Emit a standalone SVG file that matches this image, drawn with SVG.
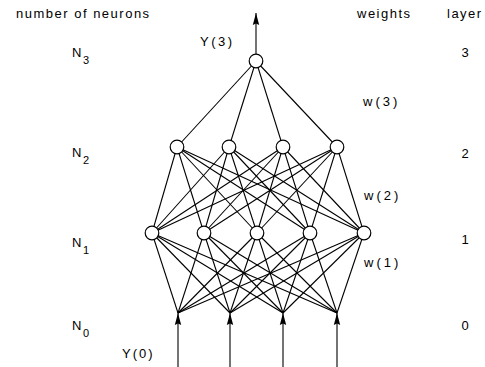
<svg xmlns="http://www.w3.org/2000/svg" width="485" height="367" viewBox="0 0 485 367">
<style>
text{font-family:"Liberation Sans",Arial,sans-serif;font-size:13px;fill:#000;letter-spacing:1.5px}
.sub{font-size:11px;letter-spacing:0}
.w{letter-spacing:3px}
.num{text-anchor:middle;letter-spacing:0}
.node{fill:#fff;stroke:#000;stroke-width:1.2}
#connectors line{stroke:#000;stroke-width:1.1}
</style>
<defs>
<marker id="arr" markerUnits="userSpaceOnUse" markerWidth="13" markerHeight="8" refX="12" refY="4" orient="auto">
<path d="M0,0.8 L12,4 L0,7.2 L1.5,4 z" fill="#000"/>
</marker>
</defs>
<rect width="485" height="367" fill="#fff"/>
<g id="connectors">
<line x1="256" y1="61" x2="177" y2="147"/>
<line x1="256" y1="61" x2="229" y2="147"/>
<line x1="256" y1="61" x2="283" y2="147"/>
<line x1="256" y1="61" x2="337" y2="147"/>
<line x1="177" y1="147" x2="152" y2="233"/><line x1="177" y1="147" x2="204" y2="233"/><line x1="177" y1="147" x2="257" y2="233"/><line x1="177" y1="147" x2="310" y2="233"/><line x1="177" y1="147" x2="364" y2="233"/>
<line x1="229" y1="147" x2="152" y2="233"/><line x1="229" y1="147" x2="204" y2="233"/><line x1="229" y1="147" x2="257" y2="233"/><line x1="229" y1="147" x2="310" y2="233"/><line x1="229" y1="147" x2="364" y2="233"/>
<line x1="283" y1="147" x2="152" y2="233"/><line x1="283" y1="147" x2="204" y2="233"/><line x1="283" y1="147" x2="257" y2="233"/><line x1="283" y1="147" x2="310" y2="233"/><line x1="283" y1="147" x2="364" y2="233"/>
<line x1="337" y1="147" x2="152" y2="233"/><line x1="337" y1="147" x2="204" y2="233"/><line x1="337" y1="147" x2="257" y2="233"/><line x1="337" y1="147" x2="310" y2="233"/><line x1="337" y1="147" x2="364" y2="233"/>
<line x1="152" y1="233" x2="178" y2="313"/><line x1="152" y1="233" x2="230" y2="313"/><line x1="152" y1="233" x2="283" y2="313"/><line x1="152" y1="233" x2="337" y2="313"/>
<line x1="204" y1="233" x2="178" y2="313"/><line x1="204" y1="233" x2="230" y2="313"/><line x1="204" y1="233" x2="283" y2="313"/><line x1="204" y1="233" x2="337" y2="313"/>
<line x1="257" y1="233" x2="178" y2="313"/><line x1="257" y1="233" x2="230" y2="313"/><line x1="257" y1="233" x2="283" y2="313"/><line x1="257" y1="233" x2="337" y2="313"/>
<line x1="310" y1="233" x2="178" y2="313"/><line x1="310" y1="233" x2="230" y2="313"/><line x1="310" y1="233" x2="283" y2="313"/><line x1="310" y1="233" x2="337" y2="313"/>
<line x1="364" y1="233" x2="178" y2="313"/><line x1="364" y1="233" x2="230" y2="313"/><line x1="364" y1="233" x2="283" y2="313"/><line x1="364" y1="233" x2="337" y2="313"/>
<line x1="178" y1="367" x2="178" y2="313" marker-end="url(#arr)"/>
<line x1="230" y1="367" x2="230" y2="313" marker-end="url(#arr)"/>
<line x1="283" y1="367" x2="283" y2="313" marker-end="url(#arr)"/>
<line x1="337" y1="367" x2="337" y2="313" marker-end="url(#arr)"/>
<line x1="256" y1="54" x2="256" y2="13" marker-end="url(#arr)"/>
</g>
<g id="n3_1"><circle class="node" cx="256" cy="61" r="6.8"/></g>
<g id="n2_1"><circle class="node" cx="177" cy="147" r="6.8"/></g>
<g id="n2_2"><circle class="node" cx="229" cy="147" r="6.8"/></g>
<g id="n2_3"><circle class="node" cx="283" cy="147" r="6.8"/></g>
<g id="n2_4"><circle class="node" cx="337" cy="147" r="6.8"/></g>
<g id="n1_1"><circle class="node" cx="152" cy="233" r="6.8"/></g>
<g id="n1_2"><circle class="node" cx="204" cy="233" r="6.8"/></g>
<g id="n1_3"><circle class="node" cx="257" cy="233" r="6.8"/></g>
<g id="n1_4"><circle class="node" cx="310" cy="233" r="6.8"/></g>
<g id="n1_5"><circle class="node" cx="364" cy="233" r="6.8"/></g>
<g id="labels">
<text x="16" y="18">number of neurons</text>
<text x="357" y="18">weights</text>
<text x="447" y="18">layer</text>
<text x="72" y="57">N<tspan class="sub" dy="7">3</tspan></text>
<text x="72" y="157">N<tspan class="sub" dy="7">2</tspan></text>
<text x="72" y="247">N<tspan class="sub" dy="7">1</tspan></text>
<text x="72" y="330">N<tspan class="sub" dy="7">0</tspan></text>
<text x="200" y="46" style="letter-spacing:2.5px">Y(3)</text>
<text x="122" y="358" style="letter-spacing:2px">Y(0)</text>
<text class="w" x="363" y="106">w(3)</text>
<text class="w" x="364" y="200">w(2)</text>
<text class="w" x="364" y="267">w(1)</text>
<text class="num" x="465" y="57">3</text>
<text class="num" x="465" y="158">2</text>
<text class="num" x="465" y="244">1</text>
<text class="num" x="465" y="330">0</text>
</g>
</svg>
